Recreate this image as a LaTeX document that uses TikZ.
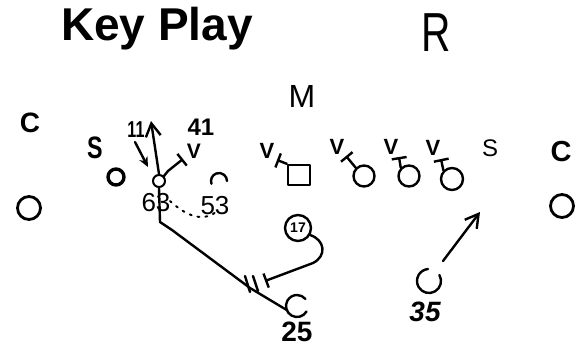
\documentclass[tikz,border=0pt]{standalone}
\usepackage{fontspec}
\setmainfont{Liberation Sans}
\usetikzlibrary{arrows.meta}
\begin{document}
\begin{tikzpicture}[x=1pt,y=-1pt,
 ink/.style={line width=2.4pt,line cap=round,line join=round},
 lbl/.style={inner sep=0pt,font=\fontsize{#1}{#1}\selectfont},
 blbl/.style={inner sep=0pt,font=\fontsize{#1}{#1}\selectfont\bfseries},
 vsym/.style={inner sep=0pt,font=\fontsize{#1}{#1}\selectfont\bfseries},
 man/.style={circle,draw,ink,inner sep=0pt,minimum size=#1},
 spot/.style={circle,inner sep=0pt,minimum size=#1},
 block/.style={ink,-{Bar[width=15pt]}},
 run/.style={ink,-{Straight Barb[length=13pt,width=15pt]}}]
\fill[white] (0,0) rectangle (586,348);
\useasboundingbox (0,0) rectangle (586,348);

% title and letters
\node[anchor=base west,inner sep=0pt,font=\fontsize{46}{46}\selectfont\bfseries] (title) at (61,40) {Key Play};
\node[lbl=55,xscale=0.74] (R) at (436,33) {R};
\node[lbl=32] (M) at (302,96) {M};
\node[blbl=28] (CL) at (30,123) {C};
\node[blbl=31,xscale=0.75] (SL) at (95,148) {S};
\node[man=16,line width=3.4pt] (OB) at (116,177) {};
\node[man=23,line width=2.8pt] (OL) at (29,208) {};
\node[lbl=24] (SR) at (490,148) {S};
\node[blbl=29] (CR) at (561,152) {C};
\node[man=23,line width=2.8pt] (OR) at (562,206) {};

% left cluster
\node[blbl=23,xscale=0.7] (n11) at (136,130) {11};
\node[blbl=24] (n41) at (201,127) {41};
\node[vsym=21] (v41) at (194,151) {V};
\node[man=12,line width=2pt] (cen) at (159,181) {};
\node[lbl=26] (n63) at (156,203) {63};
\node[lbl=26] (n53) at (215,206) {53};
\coordinate (qtip) at (151,121);
\coordinate (s11) at (135,142);
\coordinate (e11) at (148,167);
\coordinate (b41) at (183,159);
\coordinate (k53) at (219,181);
\coordinate (d1) at (170,201);
\coordinate (d2) at (216,212);

\draw[run] (cen.north) -- (qtip);
\draw[ink,-{Stealth[length=10pt,width=9pt]}] (s11) -- (e11);
\draw[block] (cen.north east) -- (168,171) -- (b41);
\draw[ink] (k53) ++(160:8) arc[start angle=160,end angle=360,radius=8];
\draw[ink,line width=2pt,dash pattern=on 2pt off 6pt] (d1) .. controls (182,212) and (200,224) .. (d2);

% line
\node[vsym=22] (v1) at (267,151) {V};
\node[vsym=22] (v2) at (337,147) {V};
\node[vsym=22] (v3) at (391,147) {V};
\node[vsym=22] (v4) at (433,148) {V};
\node[draw,ink,inner sep=0pt,minimum width=22pt,minimum height=20pt] (sq) at (299,175) {};
\node[man=21] (c2) at (364,176) {};
\node[man=21] (c3) at (409,176) {};
\node[man=22] (c4) at (452,179) {};
\coordinate (b1) at (277,160);
\coordinate (b2) at (346,156);
\coordinate (b3) at (399,157);
\coordinate (b4) at (441,159);
\draw[block] (sq.north west) -- (b1);
\draw[block] (c2.north west) -- (b2);
\draw[block] (c3.north west) -- (b3);
\draw[block] (c4.north west) -- (b4);

% backs
\node[man=26] (c17) at (298,228) {\fontsize{14}{14}\selectfont\bfseries 17};
\node[spot=22] (c25) at (297,306) {};
\node[blbl=28] (n25) at (297,332) {25};
\draw[ink] (c25.center) ++(30:11) arc[start angle=30,end angle=320,radius=11];
\node[spot=24] (c35) at (429,281) {};
\node[inner sep=0pt,font=\fontsize{28}{28}\selectfont\bfseries\itshape] (n35) at (425,312) {35};
\draw[ink] (c35.center) ++(-30:12) arc[start angle=-30,end angle=265,radius=12];
\coordinate (a35) at (443,261);
\coordinate (t35) at (480,212);
\draw[run] (a35) -- (t35);

\coordinate (b17) at (265,281);
\draw[block] (c17.-30) .. controls (325,240) and (327,256) .. (313,263) -- (b17);
\draw[ink] (cen.south) -- (160,222) -- (172,230) -- (250,288) -- (c25.200);
\draw[ink] (245,276) -- (250,292);
\draw[ink] (253,276) -- (258,291);
\end{tikzpicture}
\end{document}
